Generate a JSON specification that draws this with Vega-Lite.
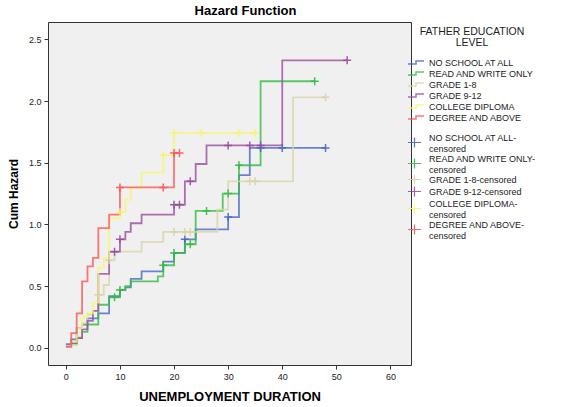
{
  "$schema": "https://vega.github.io/schema/vega-lite/v6.json",
  "width": 363,
  "height": 343,
  "autosize": "none",
  "padding": {"left": 48, "top": 22, "right": 164, "bottom": 42},
  "background": "white",
  "title": {"text": "Hazard Function", "fontSize": 13, "fontWeight": "bold", "font": "Liberation Sans", "color": "#000", "offset": 4, "dx": 16},
  "config": {
    "font": "Liberation Sans",
    "view": {"fill": "#f0f0f0", "stroke": "#333", "strokeWidth": 1},
    "axis": {"grid": false, "domain": false, "tickColor": "#333", "tickSize": 4, "labelFontSize": 9, "labelColor": "#222", "titleColor": "#000", "titleFontWeight": "bold", "labelFont": "Liberation Sans", "titleFont": "Liberation Sans"},
    "legend": {"labelFont": "Liberation Sans", "titleFont": "Liberation Sans", "labelColor": "#222", "titleColor": "#222", "labelFontSize": 9, "padding": 5, "offset": -6, "rowPadding": 0, "labelOffset": 7, "labelLineHeight": 10, "layout": {"right": {"anchor": "start", "direction": "vertical", "margin": -10}}}
  },
  "datasets": {
    "lines": [
      {"g": "NO SCHOOL AT ALL", "t": 0, "h": 0.03}, {"g": "NO SCHOOL AT ALL", "t": 1, "h": 0.07}, {"g": "NO SCHOOL AT ALL", "t": 2, "h": 0.16}, {"g": "NO SCHOOL AT ALL", "t": 3, "h": 0.19}, {"g": "NO SCHOOL AT ALL", "t": 4, "h": 0.24}, {"g": "NO SCHOOL AT ALL", "t": 6, "h": 0.28}, {"g": "NO SCHOOL AT ALL", "t": 8, "h": 0.42}, {"g": "NO SCHOOL AT ALL", "t": 10, "h": 0.47}, {"g": "NO SCHOOL AT ALL", "t": 11, "h": 0.49}, {"g": "NO SCHOOL AT ALL", "t": 12, "h": 0.56}, {"g": "NO SCHOOL AT ALL", "t": 14, "h": 0.62}, {"g": "NO SCHOOL AT ALL", "t": 18, "h": 0.70}, {"g": "NO SCHOOL AT ALL", "t": 20, "h": 0.77}, {"g": "NO SCHOOL AT ALL", "t": 22, "h": 0.88}, {"g": "NO SCHOOL AT ALL", "t": 24, "h": 0.96}, {"g": "NO SCHOOL AT ALL", "t": 30, "h": 1.06}, {"g": "NO SCHOOL AT ALL", "t": 32, "h": 1.40}, {"g": "NO SCHOOL AT ALL", "t": 34, "h": 1.62}, {"g": "NO SCHOOL AT ALL", "t": 48, "h": 1.62},
      {"g": "READ AND WRITE ONLY", "t": 1, "h": 0.03}, {"g": "READ AND WRITE ONLY", "t": 2, "h": 0.08}, {"g": "READ AND WRITE ONLY", "t": 3, "h": 0.13}, {"g": "READ AND WRITE ONLY", "t": 4, "h": 0.19}, {"g": "READ AND WRITE ONLY", "t": 6, "h": 0.35}, {"g": "READ AND WRITE ONLY", "t": 8, "h": 0.41}, {"g": "READ AND WRITE ONLY", "t": 10, "h": 0.47}, {"g": "READ AND WRITE ONLY", "t": 11, "h": 0.50}, {"g": "READ AND WRITE ONLY", "t": 12, "h": 0.54}, {"g": "READ AND WRITE ONLY", "t": 17, "h": 0.58}, {"g": "READ AND WRITE ONLY", "t": 18, "h": 0.67}, {"g": "READ AND WRITE ONLY", "t": 20, "h": 0.77}, {"g": "READ AND WRITE ONLY", "t": 22, "h": 0.84}, {"g": "READ AND WRITE ONLY", "t": 24, "h": 1.11}, {"g": "READ AND WRITE ONLY", "t": 29, "h": 1.25}, {"g": "READ AND WRITE ONLY", "t": 32, "h": 1.48}, {"g": "READ AND WRITE ONLY", "t": 36, "h": 2.16}, {"g": "READ AND WRITE ONLY", "t": 46, "h": 2.16},
      {"g": "GRADE 1-8", "t": 0, "h": 0.01}, {"g": "GRADE 1-8", "t": 1, "h": 0.03}, {"g": "GRADE 1-8", "t": 2, "h": 0.09}, {"g": "GRADE 1-8", "t": 3, "h": 0.20}, {"g": "GRADE 1-8", "t": 4, "h": 0.27}, {"g": "GRADE 1-8", "t": 5, "h": 0.30}, {"g": "GRADE 1-8", "t": 6, "h": 0.43}, {"g": "GRADE 1-8", "t": 7, "h": 0.51}, {"g": "GRADE 1-8", "t": 8, "h": 0.71}, {"g": "GRADE 1-8", "t": 9, "h": 0.78}, {"g": "GRADE 1-8", "t": 14, "h": 0.86}, {"g": "GRADE 1-8", "t": 18, "h": 0.94}, {"g": "GRADE 1-8", "t": 28, "h": 1.12}, {"g": "GRADE 1-8", "t": 30, "h": 1.35}, {"g": "GRADE 1-8", "t": 42, "h": 2.03}, {"g": "GRADE 1-8", "t": 48, "h": 2.03},
      {"g": "GRADE 9-12", "t": 1, "h": 0.04}, {"g": "GRADE 9-12", "t": 2, "h": 0.08}, {"g": "GRADE 9-12", "t": 3, "h": 0.15}, {"g": "GRADE 9-12", "t": 4, "h": 0.22}, {"g": "GRADE 9-12", "t": 5, "h": 0.30}, {"g": "GRADE 9-12", "t": 6, "h": 0.60}, {"g": "GRADE 9-12", "t": 8, "h": 0.78}, {"g": "GRADE 9-12", "t": 10, "h": 0.88}, {"g": "GRADE 9-12", "t": 11, "h": 0.94}, {"g": "GRADE 9-12", "t": 12, "h": 1.01}, {"g": "GRADE 9-12", "t": 14, "h": 1.08}, {"g": "GRADE 9-12", "t": 20, "h": 1.16}, {"g": "GRADE 9-12", "t": 22, "h": 1.35}, {"g": "GRADE 9-12", "t": 24, "h": 1.49}, {"g": "GRADE 9-12", "t": 26, "h": 1.64}, {"g": "GRADE 9-12", "t": 40, "h": 2.33}, {"g": "GRADE 9-12", "t": 52, "h": 2.33},
      {"g": "COLLEGE DIPLOMA", "t": 1, "h": 0.05}, {"g": "COLLEGE DIPLOMA", "t": 2, "h": 0.16}, {"g": "COLLEGE DIPLOMA", "t": 3, "h": 0.25}, {"g": "COLLEGE DIPLOMA", "t": 4, "h": 0.28}, {"g": "COLLEGE DIPLOMA", "t": 5, "h": 0.37}, {"g": "COLLEGE DIPLOMA", "t": 6, "h": 0.65}, {"g": "COLLEGE DIPLOMA", "t": 7, "h": 0.73}, {"g": "COLLEGE DIPLOMA", "t": 8, "h": 1.05}, {"g": "COLLEGE DIPLOMA", "t": 10, "h": 1.10}, {"g": "COLLEGE DIPLOMA", "t": 11, "h": 1.20}, {"g": "COLLEGE DIPLOMA", "t": 12, "h": 1.30}, {"g": "COLLEGE DIPLOMA", "t": 14, "h": 1.42}, {"g": "COLLEGE DIPLOMA", "t": 18, "h": 1.56}, {"g": "COLLEGE DIPLOMA", "t": 20, "h": 1.74}, {"g": "COLLEGE DIPLOMA", "t": 35, "h": 1.74},
      {"g": "DEGREE AND ABOVE", "t": 0, "h": 0.01}, {"g": "DEGREE AND ABOVE", "t": 1, "h": 0.12}, {"g": "DEGREE AND ABOVE", "t": 2, "h": 0.28}, {"g": "DEGREE AND ABOVE", "t": 3, "h": 0.54}, {"g": "DEGREE AND ABOVE", "t": 4, "h": 0.66}, {"g": "DEGREE AND ABOVE", "t": 5, "h": 0.73}, {"g": "DEGREE AND ABOVE", "t": 6, "h": 0.97}, {"g": "DEGREE AND ABOVE", "t": 8, "h": 1.08}, {"g": "DEGREE AND ABOVE", "t": 10, "h": 1.30}, {"g": "DEGREE AND ABOVE", "t": 20, "h": 1.58}, {"g": "DEGREE AND ABOVE", "t": 21, "h": 1.58}
    ],
    "cens": [
      {"g": "NO SCHOOL AT ALL-censored", "t": 22, "h": 0.88}, {"g": "NO SCHOOL AT ALL-censored", "t": 30, "h": 1.06}, {"g": "NO SCHOOL AT ALL-censored", "t": 36, "h": 1.62}, {"g": "NO SCHOOL AT ALL-censored", "t": 40, "h": 1.62}, {"g": "NO SCHOOL AT ALL-censored", "t": 48, "h": 1.62},
      {"g": "READ AND WRITE ONLY-censored", "t": 9, "h": 0.41}, {"g": "READ AND WRITE ONLY-censored", "t": 10, "h": 0.47}, {"g": "READ AND WRITE ONLY-censored", "t": 18, "h": 0.67}, {"g": "READ AND WRITE ONLY-censored", "t": 20, "h": 0.77}, {"g": "READ AND WRITE ONLY-censored", "t": 23, "h": 0.84}, {"g": "READ AND WRITE ONLY-censored", "t": 26, "h": 1.11}, {"g": "READ AND WRITE ONLY-censored", "t": 30, "h": 1.25}, {"g": "READ AND WRITE ONLY-censored", "t": 32, "h": 1.48}, {"g": "READ AND WRITE ONLY-censored", "t": 46, "h": 2.16},
      {"g": "GRADE 1-8-censored", "t": 6, "h": 0.43}, {"g": "GRADE 1-8-censored", "t": 8, "h": 0.71}, {"g": "GRADE 1-8-censored", "t": 20, "h": 0.94}, {"g": "GRADE 1-8-censored", "t": 22, "h": 0.94}, {"g": "GRADE 1-8-censored", "t": 23, "h": 0.94}, {"g": "GRADE 1-8-censored", "t": 34, "h": 1.35}, {"g": "GRADE 1-8-censored", "t": 35, "h": 1.35}, {"g": "GRADE 1-8-censored", "t": 48, "h": 2.03},
      {"g": "GRADE 9-12-censored", "t": 9, "h": 0.78}, {"g": "GRADE 9-12-censored", "t": 10, "h": 0.88}, {"g": "GRADE 9-12-censored", "t": 20, "h": 1.16}, {"g": "GRADE 9-12-censored", "t": 21, "h": 1.16}, {"g": "GRADE 9-12-censored", "t": 23, "h": 1.35}, {"g": "GRADE 9-12-censored", "t": 30, "h": 1.64}, {"g": "GRADE 9-12-censored", "t": 34, "h": 1.64}, {"g": "GRADE 9-12-censored", "t": 36, "h": 1.64}, {"g": "GRADE 9-12-censored", "t": 52, "h": 2.33},
      {"g": "COLLEGE DIPLOMA-censored", "t": 10, "h": 1.10}, {"g": "COLLEGE DIPLOMA-censored", "t": 18, "h": 1.56}, {"g": "COLLEGE DIPLOMA-censored", "t": 20, "h": 1.74}, {"g": "COLLEGE DIPLOMA-censored", "t": 25, "h": 1.74}, {"g": "COLLEGE DIPLOMA-censored", "t": 32, "h": 1.74}, {"g": "COLLEGE DIPLOMA-censored", "t": 35, "h": 1.74},
      {"g": "DEGREE AND ABOVE-censored", "t": 10, "h": 1.30}, {"g": "DEGREE AND ABOVE-censored", "t": 18, "h": 1.30}, {"g": "DEGREE AND ABOVE-censored", "t": 20, "h": 1.58}, {"g": "DEGREE AND ABOVE-censored", "t": 21, "h": 1.58}
    ]
  },
  "layer": [
    {
      "data": {"name": "lines"},
      "mark": {"type": "line", "interpolate": "step-after", "strokeWidth": 1.8, "opacity": 0.8},
      "encoding": {
        "x": {"field": "t", "type": "quantitative", "scale": {"domain": [-3.3, 63.8], "nice": false, "zero": false}, "axis": {"values": [0, 10, 20, 30, 40, 50, 60], "title": "UNEMPLOYMENT DURATION", "titleFontSize": 13, "titlePadding": 9, "labelPadding": 3}},
        "y": {"field": "h", "type": "quantitative", "scale": {"domain": [-0.138, 2.64], "nice": false, "zero": false}, "axis": {"values": [0, 0.5, 1, 1.5, 2, 2.5], "format": ".1f", "title": "Cum Hazard", "titleFontSize": 12, "titlePadding": 8, "labelPadding": 3}},
        "stroke": {"field": "g", "type": "nominal", "sort": null,
          "scale": {"domain": ["NO SCHOOL AT ALL", "READ AND WRITE ONLY", "GRADE 1-8", "GRADE 9-12", "COLLEGE DIPLOMA", "DEGREE AND ABOVE"], "range": ["#4a66c4", "#33bb44", "#d8d4a6", "#9a4d9e", "#f6f66e", "#ff5555"]},
          "legend": {"title": ["FATHER EDUCATION", "LEVEL"], "titleFontSize": 10.5, "titleFontWeight": "normal", "titleAnchor": "middle", "titleAlign": "center", "titleLineHeight": 11, "titlePadding": 8, "symbolType": "M-1.6,0.3H0V-0.3H1.6", "symbolSize": 100, "symbolStrokeWidth": 1.5, "symbolFillColor": "transparent", "orient": "right"}}
      }
    },
    {
      "data": {"name": "cens"},
      "mark": {"type": "point", "shape": "M-1,0H1M0,-1V1", "size": 64, "strokeWidth": 1.5, "filled": false, "opacity": 0.9},
      "encoding": {
        "x": {"field": "t", "type": "quantitative"},
        "y": {"field": "h", "type": "quantitative"},
        "stroke": {"field": "g", "type": "nominal", "sort": null,
          "scale": {"domain": ["NO SCHOOL AT ALL-censored", "READ AND WRITE ONLY-censored", "GRADE 1-8-censored", "GRADE 9-12-censored", "COLLEGE DIPLOMA-censored", "DEGREE AND ABOVE-censored"], "range": ["#4a66c4", "#33bb44", "#d8d4a6", "#9a4d9e", "#f6f66e", "#ff5555"]},
          "legend": {"title": null, "padding": 5, "offset": -6, "rowPadding": -4, "labelOffset": 10, "symbolType": "M-1.86,0H1.86M0,-1.43V1.43", "symbolSize": 49, "symbolStrokeWidth": 1.2, "symbolFillColor": "transparent", "orient": "right", "labelExpr": "length(datum.label) > 20 ? [substring(datum.label, 0, lastindexof(datum.label, '-') + 1), 'censored'] : [datum.label]",
            "encoding": {"symbols": {"y": {"value": {"expr": "datum.size * 0.5 + (length(datum.label) > 20 ? 5 : 0)"}}}}}}
      }
    }
  ],
  "resolve": {"scale": {"stroke": "independent"}}
}
